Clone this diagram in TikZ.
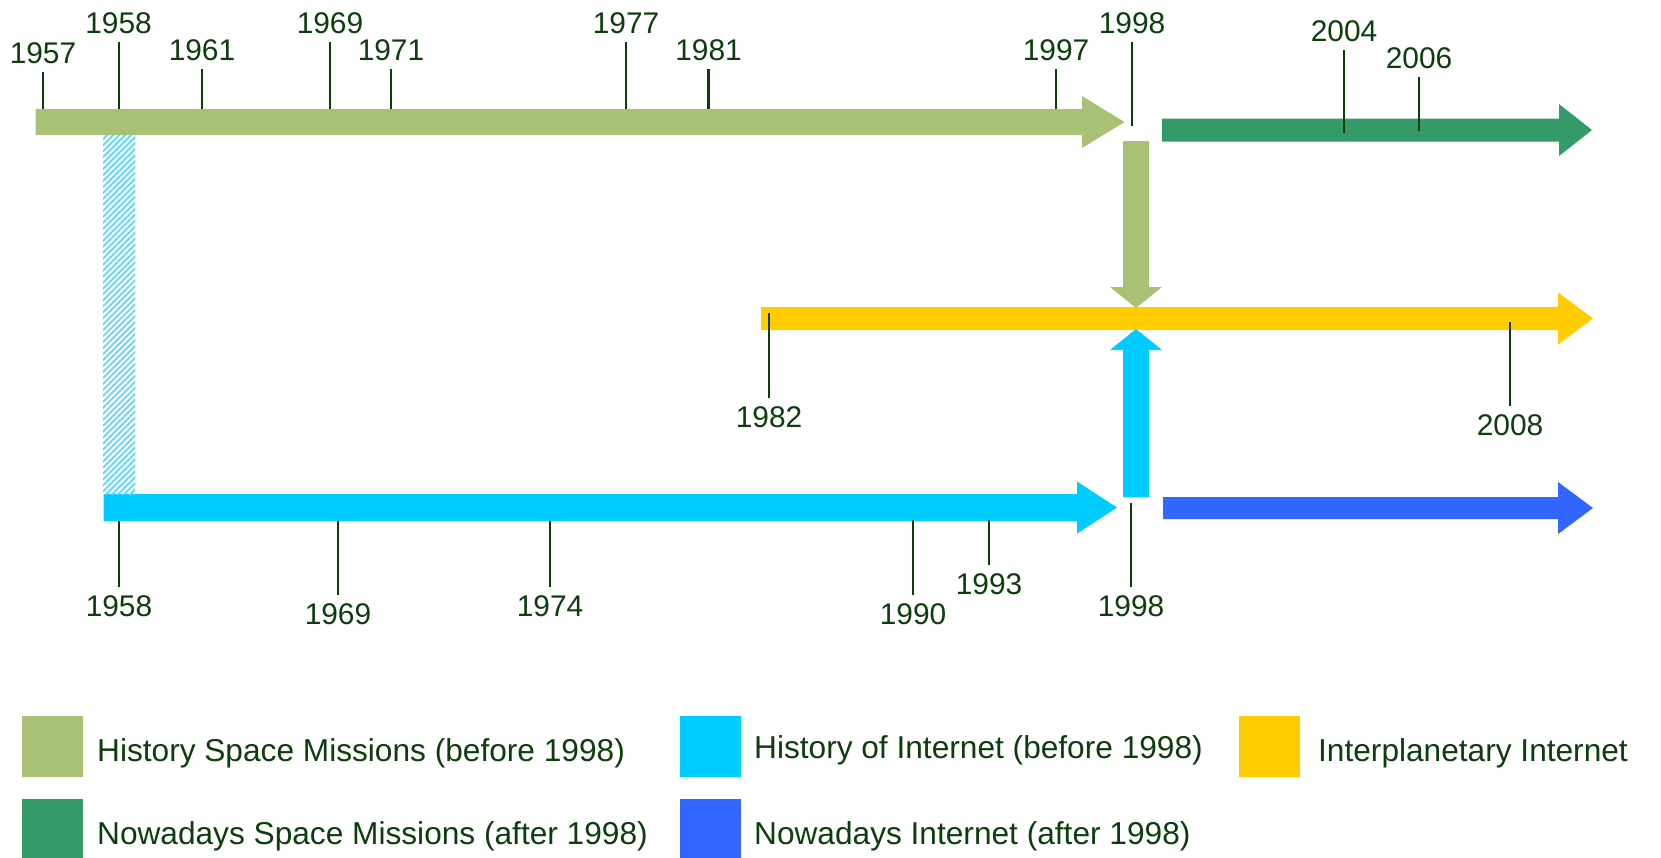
\documentclass[tikz,border=0pt]{standalone}
\usepackage{fontspec}
\setmainfont{Liberation Sans}
\usetikzlibrary{positioning,patterns.meta}
\definecolor{oldspace}{RGB}{169,193,116}
\definecolor{newspace}{RGB}{53,154,105}
\definecolor{oldnet}{RGB}{0,204,255}
\definecolor{newnet}{RGB}{51,102,255}
\definecolor{ipn}{RGB}{255,204,0}
\definecolor{hatchnet}{RGB}{90,215,255}
\definecolor{inkgreen}{RGB}{12,62,12}
\tikzset{every node/.style={text=inkgreen},
  yearlbl/.style={font=\fontsize{8.5}{10}\selectfont, inner sep=2.2pt},
  tick/.style={draw=inkgreen, line width=0.6pt},
  legbox/.style={minimum size=0.61cm, inner sep=0pt},
  legtxt/.style={font=\fontsize{9}{11}\selectfont, inner sep=0pt, yshift=-0.07cm}}
% block arrow along x: colour, start, head start, tip, centre y, bar half height
\newcommand{\timearrow}[6]{%
  \fill[#1] (#2,#5-#6) -- (#3,#5-#6) -- (#3,#5-26) -- (#4,#5) -- (#3,#5+26) -- (#3,#5+#6) -- (#2,#5+#6) -- cycle;}

\begin{document}
\begin{tikzpicture}[x=0.01cm,y=-0.01cm]
  \useasboundingbox (0,0) rectangle (1661,857);
  % timelines
  \timearrow{oldspace}{35.7}{1082}{1124.5}{122}{13}
  \timearrow{newspace}{1162}{1559}{1592}{130}{11.5}
  \timearrow{oldnet}{103.6}{1077}{1117}{507.5}{13.5}
  \timearrow{newnet}{1163}{1558}{1593}{508}{11}
  \fill[pattern={Lines[angle=45,distance=1.2pt,line width=0.5pt]}, pattern color=hatchnet] (103,135) rectangle (135,494);
  % both histories meet the interplanetary line in 1998
  \fill[oldspace] (1123,141) -- (1149,141) -- (1149,287) -- (1162,287) -- (1136,308) -- (1110,287) -- (1123,287) -- cycle;
  \fill[oldnet] (1123,497) -- (1149,497) -- (1149,350) -- (1162,350) -- (1136,329) -- (1110,350) -- (1123,350) -- cycle;
  \timearrow{ipn}{761}{1558}{1593}{318.5}{11.5}
  % years above
  \foreach \yr/\x/\ya/\yb in {1957/43/109/72, 1958/118.6/109/42, 1961/202/109/69,
      1969/330/109/42, 1971/391/109/69, 1977/626/109/42, 1981/708.5/109/69,
      1997/1056/109/69, 1998/1132/126/42, 2004/1344/133/50, 2006/1419/131/77} {
    \node[yearlbl, anchor=south] (top\yr) at (\x,\yb) {\yr};
    \draw[tick] (\x,\ya) -- (top\yr.south);
  }
  % years below
  \foreach \yr/\x/\ya/\yb in {1982/769/313/398, 2008/1510/322/406, 1958/119/521/587,
      1969/338/521/595, 1974/550/521/587, 1990/913/520/595, 1993/989/520/565,
      1998/1131/503/587} {
    \node[yearlbl, anchor=north] (bot\yr) at (\x,\yb) {\yr};
    \draw[tick] (\x,\ya) -- (bot\yr.north);
  }
  % legend
  \node[legbox, fill=oldspace, anchor=north west] (lgoldspace) at (21,715) {};
  \node[legtxt, right=0.13cm of lgoldspace] (txoldspace) {History Space Missions (before 1998)};
  \node[legbox, fill=newspace, anchor=north west] (lgnewspace) at (21,798) {};
  \node[legtxt, right=0.13cm of lgnewspace] (txnewspace) {Nowadays Space Missions (after 1998)};
  \node[legbox, fill=oldnet, anchor=north west] (lgoldnet) at (679,715) {};
  \node[legtxt, right=0.12cm of lgoldnet, yshift=0.03cm] (txoldnet) {History of Internet (before 1998)};
  \node[legbox, fill=newnet, anchor=north west] (lgnewnet) at (679,798) {};
  \node[legtxt, right=0.12cm of lgnewnet] (txnewnet) {Nowadays Internet (after 1998)};
  \node[legbox, fill=ipn, anchor=north west] (lgipn) at (1238,715) {};
  \node[legtxt, right=0.17cm of lgipn] (txipn) {Interplanetary Internet};
\end{tikzpicture}
\end{document}
